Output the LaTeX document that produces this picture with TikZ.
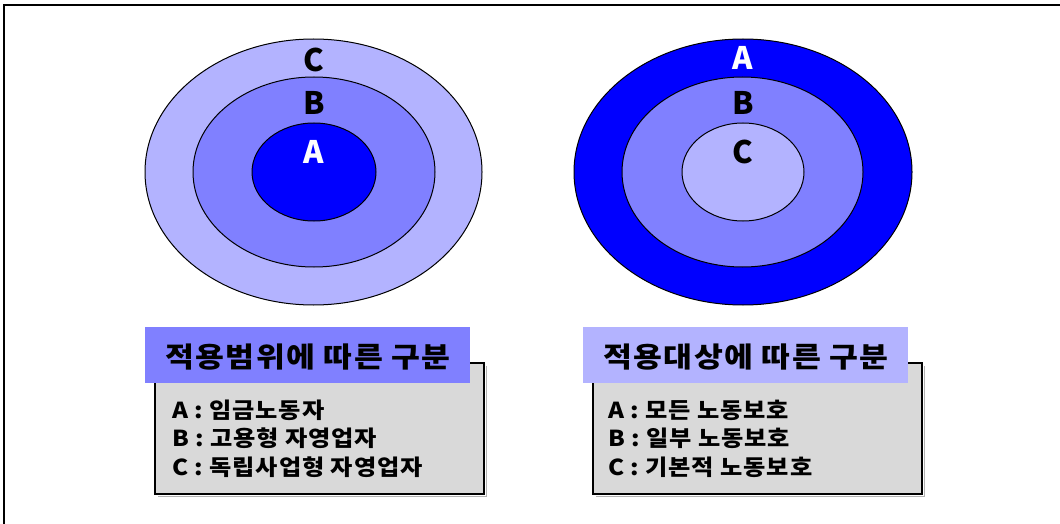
\documentclass[tikz,border=0pt]{standalone}
\usepackage{fontspec}
\newfontfamily\kr{Noto Sans CJK KR}
\newfontfamily\krwide{Noto Sans CJK KR}[FakeStretch=1.12,LetterSpace=5]
\newfontfamily\kritem{Noto Sans CJK KR}[FakeStretch=1.1,LetterSpace=4]
\definecolor{cLight}{HTML}{B3B3FF}
\definecolor{cMid}{HTML}{8080FF}
\definecolor{cDark}{HTML}{0000FF}
\definecolor{cGray}{HTML}{D9D9D9}
\begin{document}
\begin{tikzpicture}[x=1pt,y=-1pt,
  ring/.style={draw=black,line width=1pt},
  ringlabel/.style={font=\kr\bfseries\fontsize{31}{31}\selectfont,inner sep=0pt,anchor=center},
  titletext/.style={font=\krwide\bfseries\fontsize{28}{28}\selectfont,inner sep=0pt,anchor=center},
  itemtext/.style={font=\kritem\bfseries\fontsize{22}{28.5}\selectfont,inner sep=0pt,anchor=base west,align=left},
  graybox/.style={draw=black,line width=2pt,fill=cGray},
  shadowline/.style={draw=black!30,line width=1pt}]
\useasboundingbox (0,0) rectangle (1060,524);
\fill[white] (0,0) rectangle (1060,524);
% frame (top and left)
\draw[line width=1.6pt] (4,524) -- (4,5) -- (1060,5);
% left ellipses
\path[ring,fill=cLight] (313.5,172) ellipse [x radius=168.5,y radius=133];
\path[ring,fill=cMid] (314,172) ellipse [x radius=121,y radius=95];
\path[ring,fill=cDark] (314,172) ellipse [x radius=62,y radius=49];
\node[ringlabel,text=black] (lC) at (314,60) {C};
\node[ringlabel,text=black] (lB) at (314,103) {B};
\node[ringlabel,text=white] (lA) at (314,152) {A};
% right ellipses
\path[ring,fill=cDark] (743,172) ellipse [x radius=169,y radius=133];
\path[ring,fill=cMid] (742.5,172) ellipse [x radius=120.5,y radius=95];
\path[ring,fill=cLight] (743,172) ellipse [x radius=61,y radius=49];
\node[ringlabel,text=white] (rA) at (743,58) {A};
\node[ringlabel,text=black] (rB) at (743,103) {B};
\node[ringlabel,text=black] (rC) at (743,152) {C};
% left box
\draw[shadowline] (486,366) -- (486,496) -- (158,496);
\path[graybox] (155,363) rectangle (484,494);
\fill[cMid] (145,327) rectangle (470,383);
\node[titletext] (lt) at (308,357) {적용범위에 따른 구분};
\node[itemtext] (li) at (172,475) {A : 임금노동자\\B : 고용형 자영업자\\C : 독립사업형 자영업자};
% right box
\draw[shadowline] (924,366) -- (924,496) -- (596,496);
\path[graybox] (593,363) rectangle (922,494);
\fill[cLight] (583,327) rectangle (908,383);
\node[titletext] (rt) at (746,357) {적용대상에 따른 구분};
\node[itemtext] (ri) at (608,475) {A : 모든 노동보호\\B : 일부 노동보호\\C : 기본적 노동보호};
\end{tikzpicture}
\end{document}
